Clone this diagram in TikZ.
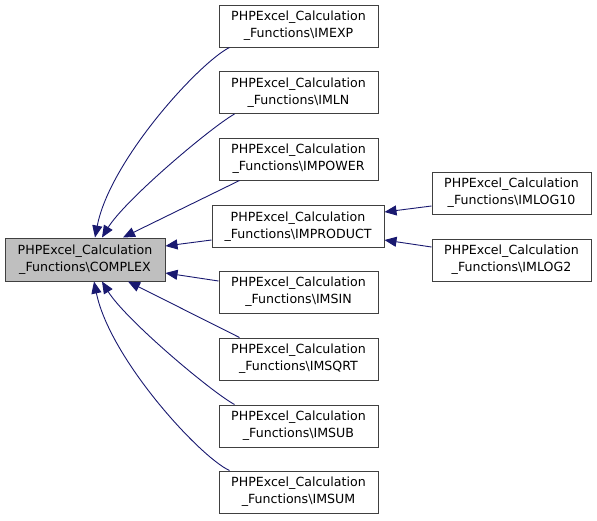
\documentclass[tikz,border=0pt]{standalone}
\usepackage{fontspec}
\setmainfont{DejaVu Sans}
\usetikzlibrary{arrows.meta}
\definecolor{edgeblue}{HTML}{191970}
\definecolor{boxline}{HTML}{404040}
\definecolor{boxgray}{HTML}{BFBFBF}
\tikzset{
  cls/.style={draw=boxline, line width=1pt, fill=white, minimum width=159pt, minimum height=42pt,
    inner sep=0pt, align=center, font=\fontsize{12.6}{16.7}\selectfont},
  edge/.style={draw=edgeblue, line width=0.9pt, -{Triangle[length=12pt,width=10pt]}},
}
\newcommand{\cn}[1]{PHPExcel\_Calculation\\\_Functions\textbackslash #1}
\begin{document}
\begin{tikzpicture}[x=1pt,y=-1pt]
\useasboundingbox (0,0) rectangle (597,520);
\node[cls, fill=boxgray, minimum width=160pt, minimum height=43pt] (C) at (85,259.5) {\cn{COMPLEX}};
\node[cls] (EXP) at (298.5,26) {\cn{IMEXP}};
\node[cls] (LN) at (298.5,92.5) {\cn{IMLN}};
\node[cls] (POW) at (298.5,159) {\cn{IMPOWER}};
\node[cls, minimum width=172pt] (PROD) at (298,226.5) {\cn{IMPRODUCT}};
\node[cls] (SIN) at (298.5,292) {\cn{IMSIN}};
\node[cls] (SQRT) at (298.5,359) {\cn{IMSQRT}};
\node[cls] (SUB) at (298.5,426) {\cn{IMSUB}};
\node[cls] (SUM) at (298.5,492) {\cn{IMSUM}};
\node[cls] (L10) at (511.5,193) {\cn{IMLOG10}};
\node[cls] (L2) at (511.5,260) {\cn{IMLOG2}};
\draw[edge] ([xshift=11pt]EXP.south west) .. controls (200,62) and (110,160) .. ([xshift=10pt]C.north);
\draw[edge] ([xshift=16pt]LN.south west) .. controls (210,128) and (125,200) .. ([xshift=17pt]C.north);
\draw[edge] ([xshift=21pt]POW.south west) -- ([xshift=38pt]C.north);
\draw[edge] ([yshift=-13.5pt]PROD.west) -- ([yshift=13.5pt]C.east);
\draw[edge] ([yshift=11pt]SIN.west) -- ([yshift=-13.5pt]C.east);
\draw[edge] ([xshift=21pt]SQRT.north west) -- ([xshift=43pt]C.south);
\draw[edge] ([xshift=16pt]SUB.north west) .. controls (210,391) and (125,319) .. ([xshift=17pt]C.south);
\draw[edge] ([xshift=11pt]SUM.north west) .. controls (200,457) and (110,359) .. ([xshift=9pt]C.south);
\draw[edge] ([yshift=-13pt]L10.west) -- ([yshift=14.5pt]PROD.east);
\draw[edge] ([yshift=13pt]L2.west) -- ([yshift=-13.5pt]PROD.east);
\end{tikzpicture}
\end{document}
